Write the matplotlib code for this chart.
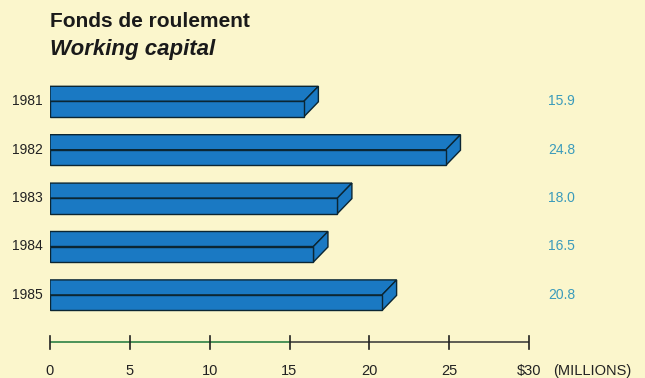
import matplotlib.pyplot as plt
from matplotlib.patches import Polygon

# ---- data ----
years = ['1981', '1982', '1983', '1984', '1985']
values = [15.9, 24.8, 18.0, 16.5, 20.8]
value_labels = ['15.9', '24.8', '18.0', '16.5', '20.8']
xticks = [0, 5, 10, 15, 20, 25, 30]
xtick_labels = ['0', '5', '10', '15', '20', '25', '$30']
unit_label = '(MILLIONS)'
title_fr = 'Fonds de roulement'
title_en = 'Working capital'

# ---- style ----
W, H = 645, 378
BG = '#fbf6cc'
BAR = '#1a79c3'
EDGE = '#0b2633'
VAL_COLOR = '#3b9bbb'
TXT = '#222222'
FONT = ['Liberation Sans', 'DejaVu Sans']
plt.rcParams['font.family'] = FONT

fig = plt.figure(figsize=(W / 100, H / 100), dpi=100)
fig.patch.set_facecolor(BG)

# axes: x in millions (0..30 spans px 50..529), y in category index units
px_per_cat = 48.4
y0_px = 101.3
ax = fig.add_axes([50 / W, 0, 479 / W, 1])
ax.set_facecolor(BG)
ax.set_xlim(0, 30)
ax.set_ylim((H - y0_px) / px_per_cat, -y0_px / px_per_cat)
ax.axis('off')

front_h = 15.5 / px_per_cat
top_h = 15.0 / px_per_cat
dx = 14.5 / (479 / 30)

for i, (v, yl, vl) in enumerate(zip(values, years, value_labels)):
    y = i
    front = Polygon([(0, y), (v, y), (v, y + front_h), (0, y + front_h)],
                    closed=True, facecolor=BAR, edgecolor=EDGE, lw=1.0)
    top = Polygon([(0, y), (v, y), (v + dx, y - top_h), (0, y - top_h)],
                  closed=True, facecolor=BAR, edgecolor=EDGE, lw=1.0)
    end = Polygon([(v, y), (v + dx, y - top_h), (v + dx, y - top_h + front_h),
                   (v, y + front_h)],
                  closed=True, facecolor=BAR, edgecolor=EDGE, lw=1.0)
    for p in (top, end, front):
        ax.add_patch(p)
    ax.text(-0.45, y, yl, ha='right', va='center', fontsize=10, color=TXT,
            clip_on=False)
    ax.text(31.2, y, vl, ha='left', va='center', fontsize=10,
            color=VAL_COLOR, clip_on=False)

# x axis
axis_y = (342.3 - y0_px) / px_per_cat
tick_h = 6.5 / px_per_cat
ax.plot([0, 15], [axis_y, axis_y], color='#3d8a4e', lw=1.3, clip_on=False,
        solid_capstyle='butt')
ax.plot([15, 30], [axis_y, axis_y], color='#333333', lw=1.1, clip_on=False,
        solid_capstyle='butt')
lab_y = (371 - y0_px) / px_per_cat
for t, tl in zip(xticks, xtick_labels):
    ax.plot([t, t], [axis_y - tick_h, axis_y + tick_h], color='#222222',
            lw=1.2, clip_on=False)
    ax.text(t, lab_y, tl, ha='center', va='center', fontsize=10.5,
            color=TXT, clip_on=False)
ax.text(30 + 24 / (479 / 30), lab_y, unit_label, ha='left', va='center',
        fontsize=10.5, color=TXT, clip_on=False)

# titles
fig.text(50 / W, 1 - 27 / H, title_fr, ha='left', va='baseline',
         fontsize=15, fontweight='bold', color='#1a1a1a')
fig.text(50 / W, 1 - 55 / H, title_en, ha='left', va='baseline',
         fontsize=16, fontweight='bold', fontstyle='italic', color='#1a1a1a')

fig.savefig('out.png', dpi=100, facecolor=BG)
